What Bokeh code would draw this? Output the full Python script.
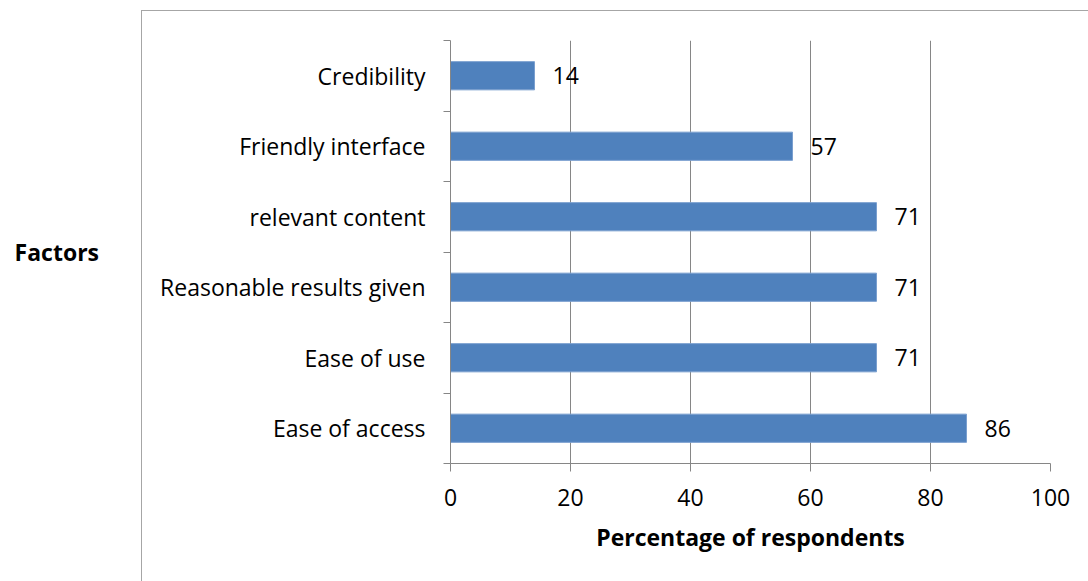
from bokeh.plotting import figure
from bokeh.models import Range1d, FixedTicker, CustomJSTickFormatter, InlineStyleSheet
from bokeh.core.properties import value
from bokeh.embed import file_html
from bokeh.resources import INLINE

# Survey results: share of respondents citing each factor
factors = ["Ease of access", "Ease of use", "Reasonable results given",
           "relevant content", "Friendly interface", "Credibility"]
percentages = [86, 71, 71, 71, 57, 14]
x_ticks = [0, 20, 40, 60, 80, 100]

FONT = "Open Sans"
GRID = "#868686"

# one unit band per factor, bars centred in each band
positions = [i + 0.5 for i in range(len(factors))]
band_edges = list(range(len(factors) + 1))

p = figure(width=1088, height=581,
           x_range=Range1d(0, 100), y_range=Range1d(0, len(factors)),
           output_backend="svg", toolbar_location=None,
           min_border_left=450, min_border_right=38,
           min_border_top=40, min_border_bottom=118)
p.outline_line_color = None
p.background_fill_color = "white"
p.border_fill_color = "white"

p.hbar(y=positions, left=0, right=percentages, height=0.4,
       fill_color="#4f81bd", line_color="#7a9fcf", line_width=1)

p.text(x=percentages, y=positions, text=[str(v) for v in percentages],
       x_offset=18, text_baseline="middle", text_align="left",
       text_font=value(FONT), text_font_size="23px", text_color="black")

# x axis
xa = p.xaxis[0]
xa.ticker = FixedTicker(ticks=x_ticks)
xa.axis_line_color = GRID
xa.major_tick_line_color = GRID
xa.major_tick_in = 0
xa.major_tick_out = 8
xa.minor_tick_line_color = None
xa.major_label_text_font = FONT
xa.major_label_text_font_size = "23px"
xa.major_label_text_color = "black"
xa.major_label_standoff = 17
xa.axis_label = "Percentage of respondents"
xa.axis_label_text_font = FONT
xa.axis_label_text_font_size = "23px"
xa.axis_label_text_font_style = "bold"
xa.axis_label_text_color = "black"
xa.axis_label_standoff = 12

# y axis: labels at band centres, ticks at band edges
ya = p.yaxis[0]
ya.ticker = FixedTicker(ticks=positions, minor_ticks=band_edges)
ya.formatter = CustomJSTickFormatter(args=dict(labels=factors),
                                     code="return labels[Math.floor(tick)]")
ya.axis_line_color = GRID
ya.major_tick_line_color = None
ya.major_tick_in = 0
ya.major_tick_out = 0
ya.minor_tick_line_color = GRID
ya.minor_tick_in = 0
ya.minor_tick_out = 7
ya.major_label_text_font = FONT
ya.major_label_text_font_size = "23px"
ya.major_label_text_color = "black"
ya.major_label_standoff = 18
ya.axis_label = "Factors"
ya.axis_label_orientation = "horizontal"
ya.axis_label_text_font = FONT
ya.axis_label_text_font_size = "23px"
ya.axis_label_text_font_style = "bold"
ya.axis_label_text_color = "black"
ya.axis_label_standoff = 58

p.xgrid.ticker = FixedTicker(ticks=x_ticks)
p.xgrid.grid_line_color = GRID
p.ygrid.visible = False

# chart-area border, running off the right and bottom edges of the canvas
p.stylesheets = [InlineStyleSheet(css="""
:host { overflow: hidden; }
:host::after {
  content: "";
  position: absolute;
  left: 141px;
  top: 10px;
  width: 1200px;
  height: 800px;
  border: 1px solid #a6a6a6;
  pointer-events: none;
  box-sizing: border-box;
}
""")]

open("out.html", "w").write(file_html(p, INLINE))
